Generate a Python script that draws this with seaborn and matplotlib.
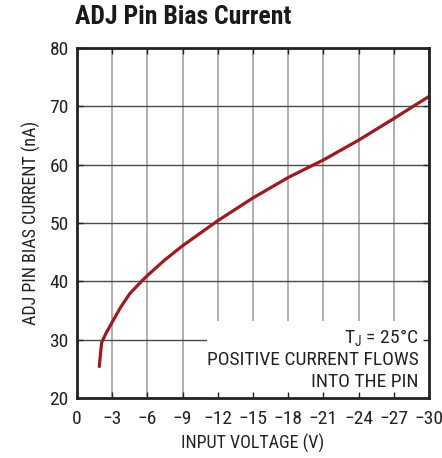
import numpy as np
import matplotlib.pyplot as plt
import pandas as pd
import seaborn as sns
from matplotlib.patches import Rectangle
from matplotlib import font_manager

# datos
voltaje = [-1.9, -2.0, -2.1, -2.5, -3.0, -3.7, -4.5, -5.5, -6.0, -7.5, -9.0, -12.0, -15.0,
           -18.0, -21.0, -24.0, -27.0, -30.0]
corriente = [25.4, 27.6, 29.5, 31.2, 33.0, 35.5, 37.9, 40.0, 41.0, 43.7, 46.1, 50.4, 54.3,
             57.8, 60.8, 64.2, 67.9, 71.7]
xticks = list(range(0, -31, -3))
yticks = list(range(20, 81, 10))
notas = ["T$_\\mathregular{J}$ = 25°C", "POSITIVE CURRENT FLOWS", "INTO THE PIN"]

# buscar una fuente angosta instalada
pesos = {}
for f in font_manager.fontManager.ttflist:
    pesos.setdefault(f.name, set()).add(str(f.weight))
prefs = ['Roboto Condensed', 'Archivo Narrow', 'PT Sans Narrow', 'Liberation Sans Narrow',
         'Encode Sans Condensed', 'Fira Sans Condensed', 'DejaVu Sans']
con_bold = [n for n in prefs if n in pesos and ('700' in pesos[n] or 'bold' in pesos[n])]
fuente = con_bold[0] if con_bold else next(n for n in prefs if n in pesos)

sns.set_style("white")
plt.rcParams['font.family'] = [fuente, 'DejaVu Sans']
plt.rcParams['mathtext.fontset'] = 'custom'
plt.rcParams['mathtext.rm'] = fuente

df = pd.DataFrame({"V": voltaje, "I": corriente})

fig = plt.figure(figsize=(4.42, 4.58), dpi=100)
pos = [77/442, 1 - 398/458, 352/442, 350/458]
ax = fig.add_axes(pos)
ax.set_axisbelow(True)

sns.lineplot(data=df, x="V", y="I", sort=False, color="#A1191F", linewidth=2.3, ax=ax, zorder=3)

ax.set_xlim(0, -30)
ax.set_ylim(20, 80)
ax.set_xticks(xticks)
ax.set_yticks(yticks)
ax.xaxis.grid(True, color="#9a9a9a", linewidth=1.1)
ax.yaxis.grid(True, color="#4a4a4a", linewidth=1.0)
ax.tick_params(length=0, labelsize=14, colors="#222222")
ax.tick_params(axis="x", pad=9)
ax.tick_params(axis="y", pad=6)
for s in ax.spines.values():
    s.set_visible(False)
ax.set_xlabel("INPUT VOLTAGE (V)", fontsize=13, color="#222222", labelpad=4)
ax.set_ylabel("ADJ PIN BIAS CURRENT (nA)", fontsize=13, color="#222222", labelpad=6)

# caja blanca de la nota
ax.add_patch(Rectangle((0.369, 0), 0.631, 0.22, transform=ax.transAxes,
                       facecolor="white", edgecolor="none", zorder=1))
ys = [0.17, 0.108, 0.045]
for t, y in zip(notas, ys):
    ax.text(0.97, y, t, transform=ax.transAxes, ha="right", va="center",
            fontsize=14, color="#222222", zorder=4)

# marco y marcas encima de la caja
ax2 = fig.add_axes(pos, sharex=ax, sharey=ax)
ax2.patch.set_visible(False)
ax2.tick_params(direction="in", length=4, width=1, colors="#222222",
                labelbottom=False, labelleft=False, top=True, right=True, bottom=True, left=True)
ax2.xaxis.set_ticks_position("both")
ax2.yaxis.set_ticks_position("both")
for s in ax2.spines.values():
    s.set_visible(True)
    s.set_linewidth(2.0)
    s.set_color("#222222")
ax2.set_xlabel("")
ax2.set_ylabel("")

fig.text(75/442, 1 - 17/458, "ADJ Pin Bias Current", fontsize=18.5, fontweight="bold",
         ha="left", va="center", color="#1a1a1a")

fig.savefig("out.png", dpi=100)
